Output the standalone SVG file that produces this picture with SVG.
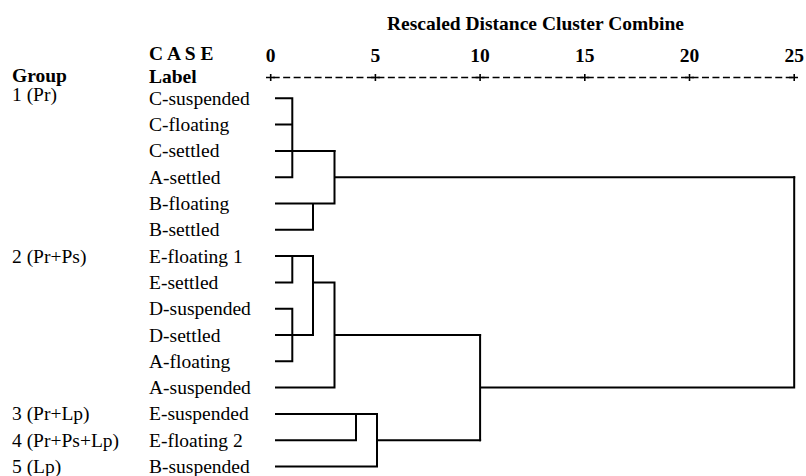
<svg xmlns="http://www.w3.org/2000/svg" width="806" height="476" viewBox="0 0 806 476">
<style>
text{font-family:"Liberation Serif","Times New Roman",serif;font-size:19.5px;fill:#000}
.b{font-weight:bold}
.n{font-weight:bold;text-anchor:middle}
.ln{fill:none;stroke:#000;stroke-width:2;stroke-linecap:square}
.ax{stroke:#000;stroke-width:1.6;fill:none}
</style>
<rect width="806" height="476" fill="#fff"/>
<g id="title"><text class="b" x="387" y="29.5">Rescaled Distance Cluster Combine</text></g>
<g id="axis">
<text class="n" x="270.7" y="61.5">0</text>
<text class="n" x="375.4" y="61.5">5</text>
<text class="n" x="480.1" y="61.5">10</text>
<text class="n" x="584.8" y="61.5">15</text>
<text class="n" x="689.5" y="61.5">20</text>
<text class="n" x="794.2" y="61.5">25</text>
<path class="ax" d="M270.7 77.5H794.2" stroke-dasharray="7 3.47" stroke-dashoffset="-2"/>
<path class="ax" d="M266 77.5h9M270.7 74v7M371 77.5h9M375.4 74v7M475.6 77.5h9M480.1 74v7M580.3 77.5h9M584.8 74v7M685 77.5h9M689.5 74v7M789 77.5h9M794.2 74v7"/>
</g>
<g id="headers">
<text class="b" x="149" y="60">C A S E</text>
<text class="b" x="149" y="83">Label</text>
<text class="b" x="12" y="82">Group</text>
</g>
<g id="groups">
<text x="12" y="101">1 (Pr)</text>
<text x="12" y="262.6">2 (Pr+Ps)</text>
<text x="12" y="420.4">3 (Pr+Lp)</text>
<text x="12" y="446.7">4 (Pr+Ps+Lp)</text>
<text x="12" y="473">5 (Lp)</text>
</g>
<g id="leaf-C-suspended"><text x="149" y="104.8">C-suspended</text></g>
<g id="leaf-C-floating"><text x="149" y="131.1">C-floating</text></g>
<g id="leaf-C-settled"><text x="149" y="157.4">C-settled</text></g>
<g id="leaf-A-settled"><text x="149" y="183.7">A-settled</text></g>
<g id="leaf-B-floating"><text x="149" y="210">B-floating</text></g>
<g id="leaf-B-settled"><text x="149" y="236.3">B-settled</text></g>
<g id="leaf-E-floating-1"><text x="149" y="262.6">E-floating 1</text></g>
<g id="leaf-E-settled"><text x="149" y="288.9">E-settled</text></g>
<g id="leaf-D-suspended"><text x="149" y="315.2">D-suspended</text></g>
<g id="leaf-D-settled"><text x="149" y="341.5">D-settled</text></g>
<g id="leaf-A-floating"><text x="149" y="367.8">A-floating</text></g>
<g id="leaf-A-suspended"><text x="149" y="394.1">A-suspended</text></g>
<g id="leaf-E-suspended"><text x="149" y="420.4">E-suspended</text></g>
<g id="leaf-E-floating-2"><text x="149" y="446.7">E-floating 2</text></g>
<g id="leaf-B-suspended"><text x="149" y="473">B-suspended</text></g>
<g id="connectors" class="ln">
<path d="M276 98.3H292.3M276 124.6H292.3M276 177.2H292.3M276 150.9H334.5M292.3 98.3V177.2"/>
<path d="M276 203.5H334.5M276 229.8H313M313 203.5V229.8M334.5 150.9V203.5M334.5 177.2H794.2"/>
<path d="M276 256.1H313M276 282.4H292.3M292.3 256.1V282.4"/>
<path d="M276 308.7H292.3M276 335H313M276 361.3H292.3M292.3 308.7V361.3M313 256.1V335"/>
<path d="M313 282.4H334.5M276 387.6H334.5M334.5 282.4V387.6M334.5 335H480.1"/>
<path d="M276 413.9H377M276 440.2H356M356 413.9V440.2M276 466.5H377M377 413.9V466.5M377 440.2H480.1"/>
<path d="M480.1 335V440.2M480.1 387.6H794.2M794.2 177.2V387.6"/>
</g>
</svg>
